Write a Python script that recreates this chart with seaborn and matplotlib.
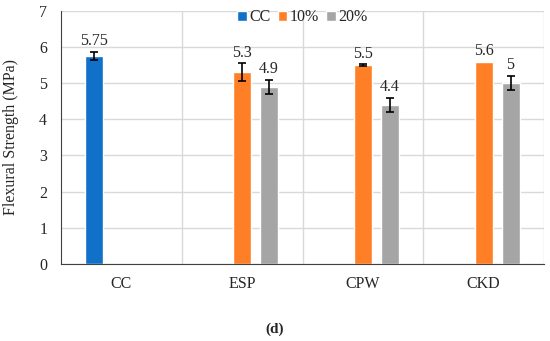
import matplotlib
matplotlib.use("Agg")
import matplotlib.pyplot as plt
from matplotlib.ticker import MultipleLocator, FixedLocator
import pandas as pd
import seaborn as sns

categories = ["CC", "ESP", "CPW", "CKD"]
series = ["CC", "10%", "20%"]
bar_category = ["CC", "ESP", "ESP", "CPW", "CPW", "CKD", "CKD"]
bar_series = ["CC", "10%", "20%", "10%", "20%", "10%", "20%"]
bar_values = [5.75, 5.3, 4.9, 5.5, 4.4, 5.6, 5.0]
bar_errors = [0.12, 0.25, 0.2, 0.02, 0.19, 0.0, 0.2]
bar_labels = ["5.75", "5.3", "4.9", "5.5", "4.4", "5.6", "5"]
colors = ["#1170C8", "#FF7F27", "#A5A5A5"]

sns.set_style("white")
plt.rcParams["font.family"] = ["Liberation Serif", "DejaVu Serif"]

df = pd.DataFrame({"Mix": bar_category, "Series": bar_series, "Value": bar_values,
                   "Err": bar_errors, "Label": bar_labels})

fig = plt.figure(figsize=(5.5, 3.41), dpi=100)
ax = fig.add_axes([0.111, 0.226, 0.878, 0.742])

sns.barplot(data=df, x="Mix", y="Value", hue="Series", order=categories,
            hue_order=series, palette=colors, width=0.67, gap=0.33,
            errorbar=None, ax=ax, saturation=1)

for level, container in zip(series, ax.containers):
    present = set(df.loc[df["Series"] == level, "Mix"])
    sub = df[df["Series"] == level].set_index("Mix").reindex(
        [c for c in categories if c in present])
    xs = [b.get_x() + b.get_width() / 2 for b in container]
    hs = [b.get_height() for b in container]
    errs = sub["Err"].tolist()
    for x, h, lab, e in zip(xs, hs, sub["Label"].tolist(), errs):
        if e > 0:
            ax.errorbar([x], [h], yerr=[e], fmt="none", ecolor="black",
                        elinewidth=1.2, capsize=3, capthick=1.2, zorder=5)
        ax.annotate(lab, (x, h + e), xytext=(0, 2), textcoords="offset points",
                    ha="center", va="bottom", fontsize=11.5)

ax.set_ylim(0, 7)
ax.set_xlim(-0.5, 3.5)
ax.yaxis.set_major_locator(MultipleLocator(1))
ax.xaxis.set_minor_locator(FixedLocator([0.5, 1.5, 2.5, 3.5]))
ax.grid(axis="y", which="major", color="#d9d9d9", linewidth=1)
ax.grid(axis="x", which="minor", color="#d9d9d9", linewidth=1)
ax.set_axisbelow(True)
ax.tick_params(axis="both", which="both", length=0, labelsize=11.5)
ax.tick_params(axis="x", pad=9)
ax.tick_params(axis="y", pad=10)
for s in ["top", "right"]:
    ax.spines[s].set_visible(False)
ax.spines["left"].set_color("#404040")
ax.spines["bottom"].set_color("#404040")
ax.set_xlabel("")
ax.set_ylabel("Flexural Strength (MPa)", fontsize=11.5)
ax.yaxis.set_label_coords(-0.088, 0.5)

ax.legend(loc="upper center", bbox_to_anchor=(0.5, 1.063), ncol=3, frameon=False,
          fontsize=11.5, handlelength=0.6, handleheight=0.6, handletextpad=0.15,
          columnspacing=0.45)

fig.text(0.5, 0.035, "(d)", ha="center", va="center", fontsize=11, fontweight="bold")

fig.savefig("out.png", dpi=100)
